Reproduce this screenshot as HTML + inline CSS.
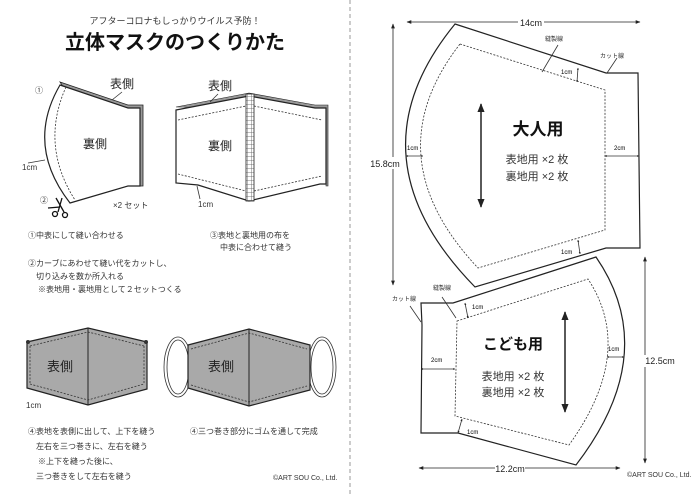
<!DOCTYPE html>
<html><head><meta charset="utf-8"><style>
html,body{margin:0;padding:0;background:#fff;}
svg{display:block;font-family:"Liberation Sans","Noto Sans CJK JP",sans-serif;}
.s{font-size:8px;fill:#333;}
.d{stroke:#333;stroke-width:0.8;fill:none;stroke-dasharray:2,1.5;}
.o{stroke:#222;stroke-width:1.2;fill:#fff;}
.a{stroke:#333;stroke-width:0.8;fill:none;}
</style></head><body>
<svg width="700" height="495" viewBox="0 0 700 495" xmlns="http://www.w3.org/2000/svg">
<defs>
<marker id="ar" viewBox="0 0 10 10" refX="9" refY="5" markerWidth="6" markerHeight="6" orient="auto-start-reverse"><path d="M0,1L10,5L0,9z" fill="#222"/></marker>
<marker id="sm" viewBox="0 0 10 10" refX="9" refY="5" markerWidth="3" markerHeight="3" orient="auto-start-reverse"><path d="M0,1L10,5L0,9z" fill="#222"/></marker>
<pattern id="ck" width="4" height="4" patternUnits="userSpaceOnUse"><rect width="4" height="4" fill="#fff"/><path d="M0,0H4V4" fill="none" stroke="#555" stroke-width="0.8"/></pattern>
</defs>
<line x1="350" y1="0" x2="350" y2="495" stroke="#999" stroke-dasharray="4,3" stroke-width="1"/>

<text x="175" y="24" text-anchor="middle" font-size="9" fill="#333">アフターコロナもしっかりウイルス予防！</text>
<text x="175" y="49" text-anchor="middle" font-size="20" font-weight="bold" fill="#111">立体マスクのつくりかた</text>

<path d="M60,82 L128,105 L143,105 L143,186 L128,186 Z" fill="#999" stroke="#222" stroke-width="0.8"/>
<path class="o" d="M60,85 L128,108 L140,108 L140,186 L128,186 L70,203 Q25,145 60,85 Z"/>
<path class="d" d="M66,87 Q40,145 75,200"/>
<text x="122" y="88" font-size="12" text-anchor="middle" fill="#222">表側</text>
<text x="95" y="148" font-size="12" text-anchor="middle" fill="#222">裏側</text>
<line class="a" x1="122" y1="92" x2="112" y2="100"/>
<text x="35" y="93" class="s">①</text>
<text x="22" y="170" class="s">1cm</text>
<line class="a" x1="28" y1="163" x2="45" y2="160"/>
<text x="40" y="203" class="s">②</text>
<text x="113" y="208" class="s">×2 セット</text>
<g stroke="#111" stroke-width="1.3" fill="none"><line x1="62" y1="198" x2="58" y2="212"/><line x1="56" y1="198" x2="64" y2="212"/><circle cx="55" cy="214" r="2.5"/><circle cx="65" cy="215" r="2.5"/><line x1="48" y1="208" x2="60" y2="207"/></g>

<path d="M176,107 L249,93 L315,105 L328,105 L328,186 L326,186 L326,108 Z" fill="#999" stroke="#222" stroke-width="0.6"/>
<path class="o" d="M176,110 L249,96 L315,108 L326,108 L326,184 L320,184 L249,201 L198,185 L176,183 Z"/>
<path class="d" d="M178,120 L246,106 M254,106 L322,120 M178,174 L246,191 M254,191 L322,176"/>
<rect x="246" y="94" width="8" height="107" fill="url(#ck)" stroke="#222" stroke-width="0.8"/>
<text x="220" y="90" font-size="12" text-anchor="middle" fill="#222">表側</text>
<text x="220" y="150" font-size="12" text-anchor="middle" fill="#222">裏側</text>
<line class="a" x1="218" y1="94" x2="210" y2="102"/>
<text x="198" y="207" class="s">1cm</text>
<line class="a" x1="200" y1="199" x2="197" y2="186"/>

<text x="28" y="238" class="s">①中表にして縫い合わせる</text>
<text x="210" y="238" class="s">③表地と裏地用の布を</text>
<text x="220" y="250" class="s">中表に合わせて縫う</text>
<text x="28" y="266" class="s">②カーブにあわせて縫い代をカットし、</text>
<text x="36" y="279" class="s">切り込みを数か所入れる</text>
<text x="38" y="292" class="s">※表地用・裏地用として２セットつくる</text>

<path d="M27,342 L88,328 L147,342 L147,389 L88,405 L27,388 Z" fill="#a9a9a9" stroke="#222" stroke-width="1.2"/>
<path class="d" d="M30,346 L88,332 L144,346 M30,384 L88,400 L144,384 M30,346 L30,384 M144,346 L144,384"/>
<line x1="88" y1="328" x2="88" y2="405" stroke="#222" stroke-width="1"/>
<circle cx="28" cy="342" r="2" fill="#333"/><circle cx="146" cy="342" r="2" fill="#333"/>
<text x="60" y="371" font-size="13" text-anchor="middle" fill="#222">表側</text>
<text x="26" y="408" class="s">1cm</text>

<ellipse cx="178" cy="367" rx="14" ry="30" fill="none" stroke="#333" stroke-width="0.8"/>
<ellipse cx="178" cy="367" rx="11" ry="27" fill="none" stroke="#333" stroke-width="0.8"/>
<ellipse cx="322" cy="367" rx="14" ry="30" fill="none" stroke="#333" stroke-width="0.8"/>
<ellipse cx="322" cy="367" rx="11" ry="27" fill="none" stroke="#333" stroke-width="0.8"/>
<path d="M188,345 L249,329 L310,345 L310,390 L249,406 L188,388 Z" fill="#a9a9a9" stroke="#222" stroke-width="1.2"/>
<path class="d" d="M191,349 L249,333 L307,349 M191,385 L249,402 L307,386"/>
<line x1="249" y1="329" x2="249" y2="406" stroke="#222" stroke-width="1"/>
<text x="221" y="371" font-size="13" text-anchor="middle" fill="#222">表側</text>

<text x="28" y="434" class="s">④表地を表側に出して、上下を縫う</text>
<text x="36" y="449" class="s">左右を三つ巻きに、左右を縫う</text>
<text x="38" y="464" class="s">※上下を縫った後に、</text>
<text x="36" y="479" class="s">三つ巻きをして左右を縫う</text>
<text x="190" y="434" class="s">④三つ巻き部分にゴムを通して完成</text>
<text x="273" y="480" font-size="7" fill="#333">©ART SOU Co., Ltd.</text>

<path class="o" d="M455,24 L606,73 L638,73 L640,248 L606,248 L475,287 Q347,156 455,24 Z"/>
<path class="d" d="M460,44 L605,90 L605,230 L478,268 Q373,156 460,44 Z"/>
<line x1="407" y1="22" x2="640" y2="22" stroke="#222" stroke-width="0.8" marker-start="url(#ar)" marker-end="url(#ar)"/>
<rect x="518" y="16" width="26" height="12" fill="#fff"/>
<text x="531" y="26" font-size="9" text-anchor="middle" fill="#222">14cm</text>
<line x1="393" y1="24" x2="393" y2="285" stroke="#222" stroke-width="0.8" marker-start="url(#ar)" marker-end="url(#ar)"/>
<rect x="370" y="157" width="30" height="12" fill="#fff"/>
<text x="385" y="167" font-size="9" text-anchor="middle" fill="#222">15.8cm</text>
<line x1="481" y1="104" x2="481" y2="207" stroke="#222" stroke-width="1.5" marker-start="url(#ar)" marker-end="url(#ar)"/>
<text x="538" y="135" font-size="17" font-weight="bold" text-anchor="middle" fill="#111">大人用</text>
<text x="537" y="163" font-size="11" text-anchor="middle" fill="#333">表地用 ×2 枚</text>
<text x="537" y="180" font-size="11" text-anchor="middle" fill="#333">裏地用 ×2 枚</text>
<text x="545" y="41" font-size="6" fill="#333">縫製線</text>
<line class="a" x1="558" y1="45" x2="542" y2="72"/>
<text x="600" y="58" font-size="6" fill="#333">カット線</text>
<line class="a" x1="617" y1="58" x2="607" y2="73"/>
<line class="a" x1="578" y1="68" x2="577" y2="82" marker-start="url(#sm)" marker-end="url(#sm)"/><text x="561" y="74" font-size="6">1cm</text>
<line class="a" x1="406" y1="156" x2="423" y2="156" marker-start="url(#sm)" marker-end="url(#sm)"/><text x="407" y="150" font-size="6">1cm</text>
<line class="a" x1="605" y1="156" x2="639" y2="156" marker-start="url(#sm)" marker-end="url(#sm)"/><text x="614" y="150" font-size="6">2cm</text>
<line class="a" x1="578" y1="240" x2="580" y2="254" marker-start="url(#sm)" marker-end="url(#sm)"/><text x="561" y="254" font-size="6">1cm</text>

<path class="o" d="M421,303 L453,303 L596,257 Q662,353 576,465 L458,433 L421,433 L422,325 Z"/>
<path class="d" d="M457,321 L588,279 Q636,352 569,445 L455,416 Z"/>
<line x1="419" y1="468" x2="620" y2="468" stroke="#222" stroke-width="0.8" marker-start="url(#ar)" marker-end="url(#ar)"/>
<rect x="495" y="462" width="30" height="12" fill="#fff"/>
<text x="510" y="472" font-size="9" text-anchor="middle" fill="#222">12.2cm</text>
<line x1="645" y1="257" x2="645" y2="463" stroke="#222" stroke-width="0.8" marker-start="url(#ar)" marker-end="url(#ar)"/>
<rect x="632" y="355" width="30" height="12" fill="#fff"/>
<text x="660" y="364" font-size="9" text-anchor="middle" fill="#222">12.5cm</text>
<line x1="565" y1="312" x2="565" y2="412" stroke="#222" stroke-width="1.5" marker-start="url(#ar)" marker-end="url(#ar)"/>
<text x="513" y="349" font-size="15" font-weight="bold" text-anchor="middle" fill="#111">こども用</text>
<text x="513" y="380" font-size="11" text-anchor="middle" fill="#333">表地用 ×2 枚</text>
<text x="513" y="396" font-size="11" text-anchor="middle" fill="#333">裏地用 ×2 枚</text>
<text x="433" y="290" font-size="6" fill="#333">縫製線</text>
<line class="a" x1="442" y1="297" x2="456" y2="318"/>
<text x="392" y="301" font-size="6" fill="#333">カット線</text>
<line class="a" x1="410" y1="306" x2="421" y2="322"/>
<line class="a" x1="465" y1="303" x2="468" y2="318" marker-start="url(#sm)" marker-end="url(#sm)"/><text x="472" y="309" font-size="6">1cm</text>
<line class="a" x1="421" y1="369" x2="455" y2="369" marker-start="url(#sm)" marker-end="url(#sm)"/><text x="431" y="362" font-size="6">2cm</text>
<line class="a" x1="607" y1="357" x2="624" y2="357" marker-start="url(#sm)" marker-end="url(#sm)"/><text x="608" y="351" font-size="6">1cm</text>
<line class="a" x1="462" y1="419" x2="458" y2="433" marker-start="url(#sm)" marker-end="url(#sm)"/><text x="467" y="434" font-size="6">1cm</text>
<text x="627" y="477" font-size="7" fill="#333">©ART SOU Co., Ltd.</text>
</svg>
</body></html>
